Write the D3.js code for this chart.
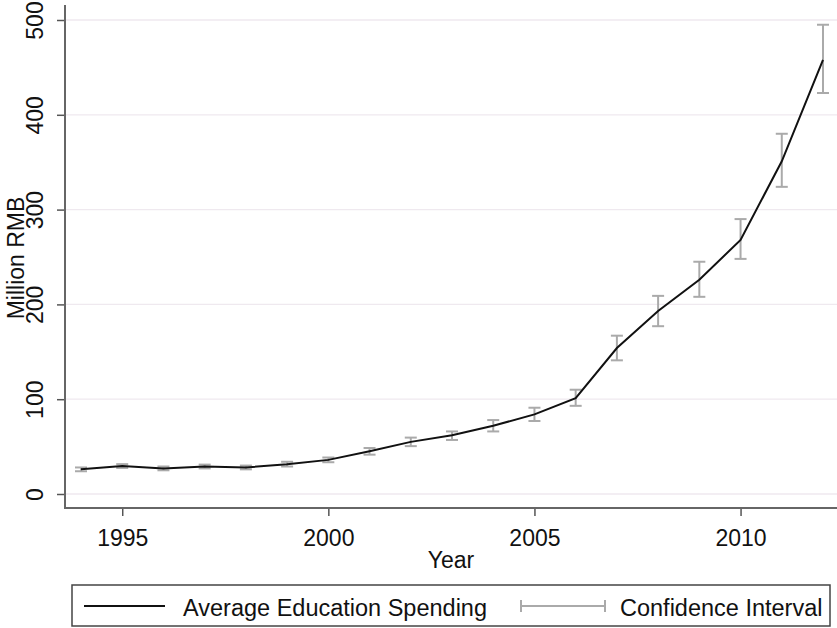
<!DOCTYPE html>
<html>
<head>
<meta charset="utf-8">
<script src="https://cdn.jsdelivr.net/npm/d3@7"></script>
<style>
  body { margin: 0; background: #fff; }
  text { font-family: "Liberation Sans", Arial, sans-serif; }
</style>
</head>
<body>
<div id="chart"></div>
<script>
const years = [1994, 1995, 1996, 1997, 1998, 1999, 2000, 2001, 2002, 2003,
    2004, 2005, 2006, 2007, 2008, 2009, 2010, 2011, 2012];
const spending = [26, 29.5, 27, 29, 28, 31.5, 36, 45, 55, 62,
    72, 84, 101, 154, 193, 226, 268, 351, 458];
const ciLow = [24, 27.5, 25, 27, 26, 29, 33.5, 41.5, 50.5, 57,
    66, 77, 93, 141, 177, 208, 248, 324, 423];
const ciHigh = [28, 31.5, 29, 31, 30, 34, 38.5, 48.5, 59.5, 66,
    78, 91, 110, 167, 209, 245, 290, 380, 495];
const xTicks = [1995, 2000, 2005, 2010];
const yTicks = [0, 100, 200, 300, 400, 500];

const W = 837, H = 628;
const margin = {left: 65, right: 0, top: 8, bottom: 120};
const fs = 23;

const svg = d3.select("#chart").append("svg")
    .attr("width", W)
    .attr("height", H);

const x = d3.scaleLinear()
    .domain([1994, 2012])
    .range([81, 823]);
const y = d3.scaleLinear()
    .domain([0, 500])
    .range([494, 20]);

// grid lines
svg.append("g")
    .selectAll("line")
    .data(yTicks)
    .join("line")
    .attr("x1", margin.left + 1)
    .attr("x2", W)
    .attr("y1", d => y(d))
    .attr("y2", d => y(d))
    .attr("stroke", "#efe9ef")
    .attr("stroke-width", 1.3);

// y axis
const yAxis = svg.append("g")
    .attr("transform", "translate(" + margin.left + ",0)")
    .call(d3.axisLeft(y).tickValues(yTicks).tickSize(8).tickSizeOuter(0).tickFormat(d3.format("d")));
yAxis.select(".domain").remove();
yAxis.append("line")
    .attr("x1", 0).attr("x2", 0)
    .attr("y1", 5).attr("y2", 508)
    .attr("stroke", "#666").attr("stroke-width", 2);
yAxis.selectAll(".tick line").attr("stroke", "#555").attr("stroke-width", 1.5);
yAxis.selectAll(".tick text")
    .attr("fill", "#111")
    .attr("font-size", fs)
    .attr("x", null)
    .attr("dy", null)
    .attr("text-anchor", "middle")
    .attr("transform", "translate(-22,0) rotate(-90)");

// x axis
const xAxis = svg.append("g")
    .attr("transform", "translate(0,508)")
    .call(d3.axisBottom(x).tickValues(xTicks).tickSize(8).tickSizeOuter(0).tickFormat(d3.format("d")));
xAxis.select(".domain").remove();
xAxis.append("line")
    .attr("x1", margin.left - 1).attr("x2", W)
    .attr("y1", 0).attr("y2", 0)
    .attr("stroke", "#666").attr("stroke-width", 2);
xAxis.selectAll(".tick line").attr("stroke", "#555").attr("stroke-width", 1.5);
xAxis.selectAll(".tick text")
    .attr("fill", "#111")
    .attr("font-size", fs)
    .attr("y", 38)
    .attr("dy", null);

// axis titles
svg.append("text")
    .attr("x", 451)
    .attr("y", 568)
    .attr("text-anchor", "middle")
    .attr("font-size", fs)
    .attr("fill", "#111")
    .text("Year");
svg.append("text")
    .attr("transform", "translate(24,258) rotate(-90)")
    .attr("text-anchor", "middle")
    .attr("font-size", fs)
    .attr("fill", "#111")
    .text("Million RMB");

// confidence intervals
const ci = svg.append("g")
    .attr("stroke", "#aaa")
    .attr("stroke-width", 2)
    .selectAll("g")
    .data(years.map((yr, i) => ({yr: yr, lo: ciLow[i], hi: ciHigh[i]})))
    .join("g");
ci.append("line")
    .attr("x1", d => x(d.yr)).attr("x2", d => x(d.yr))
    .attr("y1", d => y(d.lo)).attr("y2", d => y(d.hi));
ci.append("line")
    .attr("x1", d => x(d.yr) - 6).attr("x2", d => x(d.yr) + 6)
    .attr("y1", d => y(d.lo)).attr("y2", d => y(d.lo));
ci.append("line")
    .attr("x1", d => x(d.yr) - 6).attr("x2", d => x(d.yr) + 6)
    .attr("y1", d => y(d.hi)).attr("y2", d => y(d.hi));

// mean line
const line = d3.line()
    .x(d => x(d[0]))
    .y(d => y(d[1]));
svg.append("path")
    .datum(years.map((yr, i) => [yr, spending[i]]))
    .attr("d", line)
    .attr("fill", "none")
    .attr("stroke", "#111")
    .attr("stroke-width", 2);

// legend
const legend = svg.append("g");
legend.append("rect")
    .attr("x", 72).attr("y", 585)
    .attr("width", 758).attr("height", 41)
    .attr("fill", "#fff")
    .attr("stroke", "#444")
    .attr("stroke-width", 1.5);
legend.append("line")
    .attr("x1", 84).attr("x2", 165)
    .attr("y1", 606).attr("y2", 606)
    .attr("stroke", "#111").attr("stroke-width", 2);
legend.append("text")
    .attr("x", 183).attr("y", 616)
    .attr("font-size", 23.5)
    .attr("fill", "#111")
    .text("Average Education Spending");
const lg = legend.append("g").attr("stroke", "#aaa").attr("stroke-width", 2);
lg.append("line").attr("x1", 521).attr("x2", 605).attr("y1", 606).attr("y2", 606);
lg.append("line").attr("x1", 521).attr("x2", 521).attr("y1", 600).attr("y2", 612);
lg.append("line").attr("x1", 605).attr("x2", 605).attr("y1", 600).attr("y2", 612);
legend.append("text")
    .attr("x", 620).attr("y", 616)
    .attr("font-size", 23.5)
    .attr("fill", "#111")
    .text("Confidence Interval");
</script>
</body>
</html>
